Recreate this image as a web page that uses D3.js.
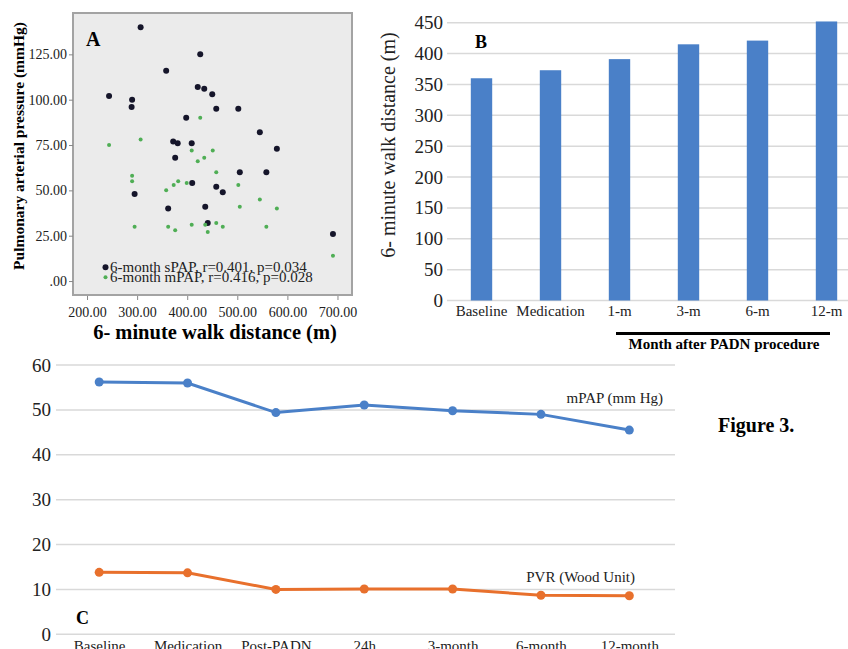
<!DOCTYPE html>
<html>
<head>
<meta charset="utf-8">
<script src="https://cdn.jsdelivr.net/npm/d3@7"></script>
<style>
body { margin: 0; background: #fff; }
svg { display: block; font-family: "Liberation Serif", "Times New Roman", serif; }
</style>
</head>
<body>
<svg width="848" height="649"></svg>
<script>
// panel A: [6-minute walk distance, pressure]
var sPAP = [[307,140],[426,125],[358,116],[244,102],[290,100],[289,96],[421,107],[434,106],
    [450,103],[458,95],[502,95],[398,90],[545,82],[579,73],[372,77],[381,76],[409,76],[376,68],
    [505,60],[558,60],[410,54],[295,48],[362,40],[436,41],[441,32],[458,52],[471,49],[691,26]];
var mPAP6 = [[426,90],[244,75],[307,78],[409,72],[451,72],[434,68],[421,66],[458,60],[290,58],
    [290,55],[382,55],[373,53],[358,50],[399,54],[502,53],[545,45],[579,40],[505,41],[295,30],
    [362,30],[376,28],[409,31],[436,31],[441,27],[458,32],[471,30],[558,30],[691,14]];
var xTicksA = [200,300,400,500,600,700];
var yTicksA = [0,25,50,75,100,125];

// panel B
var walkCats = ["Baseline","Medication","1-m","3-m","6-m","12-m"];
var walkDist = [360,373,391,415,421,452];
var yTicksB = [0,50,100,150,200,250,300,350,400,450];

// panel C
var timeCats = ["Baseline","Medication","Post-PADN","24h","3-month","6-month","12-month"];
var mPAP = [56.2,56.0,49.4,51.1,49.8,49.0,45.5];
var PVR = [13.8,13.7,10.0,10.1,10.1,8.7,8.6];
var yTicksC = [0,10,20,30,40,50,60];

var svg = d3.select("svg");
var blue = "#4a80c8", orange = "#e8702c", grid = "#d9d9d9";

// ---------- A ----------
var xA = d3.scaleLinear().domain([172, 729]).range([73, 352]);
var yA = d3.scaleLinear().domain([-7.7, 147.8]).range([295, 13]);
var gA = svg.append("g");
gA.append("rect")
    .attr("x", 73).attr("y", 13).attr("width", 279).attr("height", 282)
    .attr("fill", "#ebebeb").attr("stroke", "#a3a3a3").attr("stroke-width", 2);

var fmtA = function (d) { return d === 0 ? ".00" : d.toFixed(2); };
var axA = gA.append("g").attr("transform", "translate(73,0)")
    .call(d3.axisLeft(yA).tickValues(yTicksA).tickFormat(fmtA).tickSize(4).tickPadding(2));
var axAx = gA.append("g").attr("transform", "translate(0,296)")
    .call(d3.axisBottom(xA).tickValues(xTicksA).tickFormat(fmtA).tickSize(4).tickPadding(7));
[axA, axAx].forEach(function (a) {
    a.select(".domain").remove();
    a.selectAll("line").attr("stroke", "#888");
    a.selectAll("text").attr("font-size", 14).attr("fill", "#222").attr("font-family", "Liberation Serif");
});

gA.selectAll("circle.s").data(sPAP).enter().append("circle")
    .attr("class", "s")
    .attr("cx", function (d) { return xA(d[0]); })
    .attr("cy", function (d) { return yA(d[1]); })
    .attr("r", 3).attr("fill", "#15152a");
gA.selectAll("circle.m").data(mPAP6).enter().append("circle")
    .attr("class", "m")
    .attr("cx", function (d) { return xA(d[0]); })
    .attr("cy", function (d) { return yA(d[1]); })
    .attr("r", 2).attr("fill", "#4fae55");

gA.append("text").attr("x", 86).attr("y", 46).attr("font-size", 20)
    .attr("font-weight", "bold").text("A");
gA.append("circle").attr("cx", 105.5).attr("cy", 267.3).attr("r", 3).attr("fill", "#15152a");
gA.append("circle").attr("cx", 105.5).attr("cy", 277.3).attr("r", 2).attr("fill", "#4fae55");
gA.append("text").attr("x", 110).attr("y", 272).attr("font-size", 15).attr("fill", "#222")
    .text("6-month sPAP, r=0.401, p=0.034");
gA.append("text").attr("x", 110).attr("y", 282).attr("font-size", 15).attr("fill", "#222")
    .text("6-month mPAP, r=0.416, p=0.028");
gA.append("text").attr("x", 215).attr("y", 339).attr("text-anchor", "middle")
    .attr("font-size", 20.5).attr("font-weight", "bold").text("6- minute walk distance (m)");
gA.append("text").attr("transform", "translate(24,146) rotate(-90)").attr("text-anchor", "middle")
    .attr("font-size", 15.5).attr("font-weight", "bold").text("Pulmonary arterial pressure (mmHg)");

// ---------- B ----------
var xB = d3.scaleBand().domain(walkCats).range([447, 861]).paddingInner(0.69).paddingOuter(0.345);
var yB = d3.scaleLinear().domain([0, 450]).range([300.5, 22.7]);
var gB = svg.append("g");
gB.selectAll("line.grid").data(yTicksB).enter().append("line")
    .attr("class", "grid")
    .attr("x1", 447).attr("x2", 848)
    .attr("y1", function (d) { return yB(d); }).attr("y2", function (d) { return yB(d); })
    .attr("stroke", grid).attr("stroke-width", 1.5);
gB.selectAll("rect.bar").data(walkDist).enter().append("rect")
    .attr("class", "bar")
    .attr("x", function (d, i) { return xB(walkCats[i]); })
    .attr("width", xB.bandwidth())
    .attr("y", function (d) { return yB(d); })
    .attr("height", function (d) { return yB(0) - yB(d); })
    .attr("fill", blue);
var axB = gB.append("g").attr("transform", "translate(447,0)")
    .call(d3.axisLeft(yB).tickValues(yTicksB).tickSize(0).tickPadding(4));
var axBx = gB.append("g").attr("transform", "translate(0,300.5)")
    .call(d3.axisBottom(xB).tickSize(0).tickPadding(5));
axB.selectAll("text").attr("font-size", 19);
axBx.selectAll("text").attr("font-size", 15);
[axB, axBx].forEach(function (a) {
    a.select(".domain").remove();
    a.selectAll("text").attr("fill", "#222").attr("font-family", "Liberation Serif");
});
gB.append("text").attr("x", 475).attr("y", 48).attr("font-size", 18)
    .attr("font-weight", "bold").text("B");
gB.append("text").attr("transform", "translate(395,145) rotate(-90)").attr("text-anchor", "middle")
    .attr("font-size", 20).attr("fill", "#222").text("6- minute walk distance (m)");
gB.append("line").attr("x1", 616).attr("x2", 830).attr("y1", 333.5).attr("y2", 333.5)
    .attr("stroke", "#000").attr("stroke-width", 3);
gB.append("text").attr("x", 724).attr("y", 349).attr("text-anchor", "middle")
    .attr("font-size", 15).attr("font-weight", "bold").text("Month after PADN procedure");

// ---------- C ----------
var xC = d3.scalePoint().domain(timeCats).range([55, 673.5]).padding(0.5);
var yC = d3.scaleLinear().domain([0, 60]).range([634.3, 365]);
var gC = svg.append("g");
gC.selectAll("line.grid").data(yTicksC).enter().append("line")
    .attr("class", "grid")
    .attr("x1", 56).attr("x2", 675)
    .attr("y1", function (d) { return yC(d); }).attr("y2", function (d) { return yC(d); })
    .attr("stroke", grid).attr("stroke-width", 1.5);
var axC = gC.append("g").attr("transform", "translate(56,0)")
    .call(d3.axisLeft(yC).tickValues(yTicksC).tickSize(0).tickPadding(5));
var axCx = gC.append("g").attr("transform", "translate(0,634.3)")
    .call(d3.axisBottom(xC).tickSize(0).tickPadding(6));
axC.selectAll("text").attr("font-size", 19);
axCx.selectAll("text").attr("font-size", 15);
[axC, axCx].forEach(function (a) {
    a.select(".domain").remove();
    a.selectAll("text").attr("fill", "#222").attr("font-family", "Liberation Serif");
});

var series = [{vals: mPAP, color: blue}, {vals: PVR, color: orange}];
var line = d3.line()
    .x(function (d, i) { return xC(timeCats[i]); })
    .y(function (d) { return yC(d); });
series.forEach(function (s) {
    gC.append("path").datum(s.vals).attr("d", line)
        .attr("fill", "none").attr("stroke", s.color).attr("stroke-width", 3);
    gC.selectAll(null).data(s.vals).enter().append("circle")
        .attr("cx", function (d, i) { return xC(timeCats[i]); })
        .attr("cy", function (d) { return yC(d); })
        .attr("r", 4.5).attr("fill", s.color);
});
gC.append("text").attr("x", 663).attr("y", 403).attr("text-anchor", "end")
    .attr("font-size", 15).attr("fill", "#222").text("mPAP (mm Hg)");
gC.append("text").attr("x", 635).attr("y", 582).attr("text-anchor", "end")
    .attr("font-size", 15).attr("fill", "#222").text("PVR (Wood Unit)");
gC.append("text").attr("x", 76).attr("y", 624).attr("font-size", 18)
    .attr("font-weight", "bold").text("C");
svg.append("text").attr("x", 718).attr("y", 432).attr("font-size", 20)
    .attr("font-weight", "bold").text("Figure 3.");
</script>
</body>
</html>
